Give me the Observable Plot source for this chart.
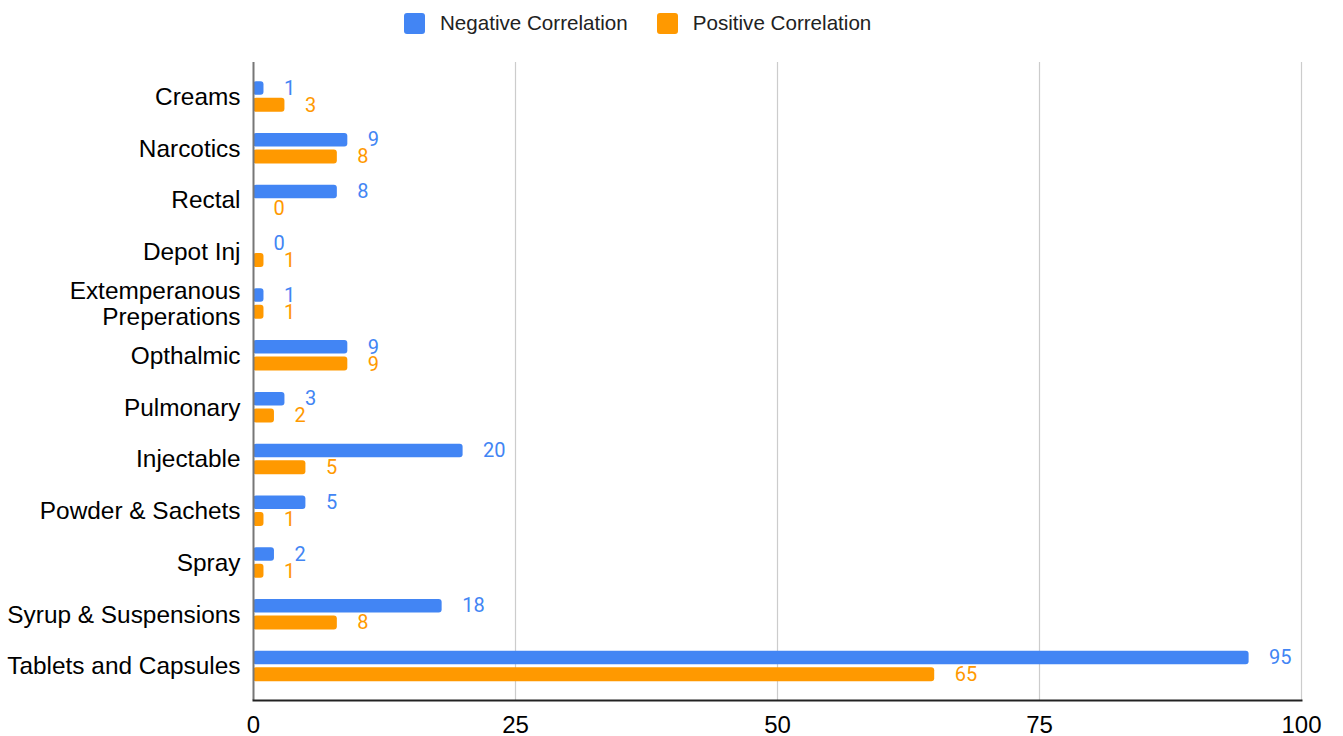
<!DOCTYPE html>
<html>
<head>
<meta charset="utf-8">
<script src="https://cdn.jsdelivr.net/npm/d3@7"></script>
<script src="https://cdn.jsdelivr.net/npm/@observablehq/plot@0.6"></script>
<style>
  body { margin: 0; background: #fff; font-family: "Liberation Sans", Arial, sans-serif; }
  #legend { height: 44px; width: 1343px; display: flex; align-items: center; padding-left: 404px; box-sizing: border-box; padding-top: 2px; }
  .item { display: flex; align-items: center; margin-right: 29px; }
  .sw { width: 21px; height: 21px; border-radius: 3px; margin-right: 15px; }
  .lt { font-size: 20.6px; color: #222; }
  #chart svg { display: block; }
</style>
</head>
<body>
<div id="legend"></div>
<div id="chart"></div>
<script>
const categories = ["Creams", "Narcotics", "Rectal", "Depot Inj", "Extemperanous\nPreperations", "Opthalmic", "Pulmonary", "Injectable", "Powder & Sachets", "Spray", "Syrup & Suspensions", "Tablets and Capsules"];
const negative = [1, 9, 8, 0, 1, 9, 3, 20, 5, 2, 18, 95];
const positive = [3, 8, 0, 1, 1, 9, 2, 5, 1, 1, 8, 65];
const xTicks = [0, 25, 50, 75, 100];
const seriesNames = ["Negative Correlation", "Positive Correlation"];
const seriesColors = ["#4285F4", "#FF9900"];

// legend
const legend = document.getElementById("legend");
seriesNames.forEach((name, i) => {
  const item = document.createElement("div");
  item.className = "item";
  const sw = document.createElement("div");
  sw.className = "sw";
  sw.style.background = seriesColors[i];
  const lt = document.createElement("span");
  lt.className = "lt";
  lt.textContent = name;
  item.appendChild(sw);
  item.appendChild(lt);
  legend.appendChild(item);
});

const neg = categories.map((c, i) => ({category: c, value: negative[i]}));
const pos = categories.map((c, i) => ({category: c, value: positive[i]}));

const chart = Plot.plot({
  width: 1343,
  height: 692,
  marginTop: 18,
  marginBottom: 36,
  marginLeft: 253,
  marginRight: 42,
  style: {fontFamily: "'Liberation Sans', Arial, sans-serif", background: "#fff", color: "#000"},
  x: {domain: [0, 100], ticks: xTicks},
  y: {domain: categories, paddingInner: 0, paddingOuter: 0.16, round: false},
  marks: [
    Plot.ruleX(xTicks.slice(1), {stroke: "#cccccc", strokeWidth: 1.2}),
    Plot.barX(neg, {x: "value", y: "category", fill: seriesColors[0], insetTop: 10.9, insetBottom: 27.4, rx: 3}),
    Plot.barX(pos, {x: "value", y: "category", fill: seriesColors[1], insetTop: 27.4, insetBottom: 10.4, rx: 3}),
    Plot.text(neg, {x: "value", y: "category", text: d => String(d.value), dx: 20, dy: -8.5, textAnchor: "start", fill: seriesColors[0], fontSize: 20, fontFamily: "Roboto"}),
    Plot.text(pos, {x: "value", y: "category", text: d => String(d.value), dx: 20, dy: 8.5, textAnchor: "start", fill: seriesColors[1], fontSize: 20, fontFamily: "Roboto"}),
    Plot.ruleX([0], {stroke: "#777", strokeWidth: 2}),
    Plot.frame({anchor: "bottom", stroke: "#222", strokeWidth: 2}),
    Plot.axisX({ticks: xTicks, tickSize: 0, tickPadding: 15, fontSize: 24, label: null}),
    Plot.axisY({tickSize: 0, tickPadding: 13, fontSize: 24.4, lineHeight: 1.04, label: null})
  ]
});
document.getElementById("chart").appendChild(chart);
</script>
</body>
</html>
